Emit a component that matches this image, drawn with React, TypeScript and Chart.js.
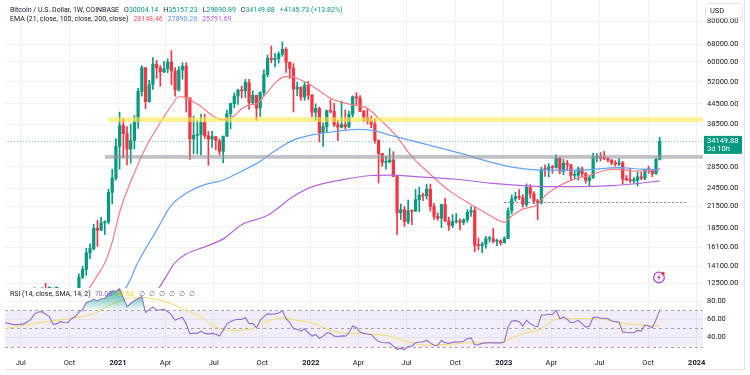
import React, { useEffect, useRef, useState } from 'react';
import { Chart, registerables } from 'chart.js';

Chart.register(...registerables);

const FONT = 'Roboto, "Liberation Sans", Arial, sans-serif';
Chart.defaults.font.family = FONT;

const TEXT = '#131722';
const UP = '#089981';
const DOWN = '#F23645';
const GRID = '#F0F2F6';
const EMA21_C = '#F47C83';
const EMA100_C = '#66A1F5';
const EMA200_C = '#B466D8';
const RSI_C = '#8E6FD0';
const RSI_SMA_C = '#F3DB6A';

// ---------- data ----------
// week index 0 = Monday 2020-06-29, one candle per week (Coinbase BTC/USD, 1W)
const firstWeek = '2020-06-29';

const opens = [
  9190, 9080, 9250, 9160, 9930, 11070, 11680, 11910, 11650, 11680,
  10260, 10330, 11080, 10770, 10670, 11370, 11500, 13030, 13760, 15480,
  15960, 18420, 18180, 19150, 19270, 23750, 26280, 32950, 38150, 36020,
  32280, 34310, 39250, 48600, 57500, 45200, 50970, 59000, 57400, 55800,
  57100, 59850, 56200, 49100, 56600, 58200, 46400, 34700, 35600, 35800,
  39000, 35500, 34700, 35300, 34250, 31800, 35400, 41500, 44600, 47000,
  49000, 48800, 51800, 44900, 47250, 43200, 48200, 54700, 61500, 60900,
  61300, 63300, 65500, 59700, 57200, 49400, 50100, 46700, 50800, 47300,
  41900, 43100, 36300, 37900, 42400, 42200, 38400, 37700, 38400, 37800,
  41300, 46800, 46400, 42200, 40400, 39400, 38500, 34300, 31300, 29400,
  29450, 29900, 26600, 20550, 21030, 19300, 20850, 20800, 22580, 23300,
  23180, 24300, 21500, 20040, 19800, 21800, 19400, 18800, 19300, 19420,
  19200, 19570, 20630, 20900, 16330, 16280, 16450, 17100, 17100, 16780,
  16840, 16620, 17130, 20880, 22700, 23050, 22930, 21800, 24630, 23520,
  22350, 22100, 28020, 27950, 28450, 28330, 30300, 27600, 29230, 28900,
  26800, 26850, 28080, 27100, 25850, 26350, 30470, 30600, 30300, 30250,
  29860, 29300, 29050, 29300, 26100, 26000, 25830, 25850, 26530, 26250,
  27970, 27920, 27150, 30004.14,
];
const highs = [
  9310, 9460, 9340, 10090, 12100, 11900, 12100, 12480, 11800, 12090,
  10790, 11180, 11080, 10960, 11490, 11730, 13350, 14090, 15970, 16500,
  18950, 19480, 19920, 19420, 24300, 28000, 34800, 41950, 40100, 37850,
  38570, 40950, 49710, 58350, 57500, 52600, 61800, 60600, 58400, 60200,
  61200, 64900, 57500, 58000, 59600, 59600, 46400, 40800, 39500, 41300,
  41300, 36600, 36600, 35300, 34700, 35400, 42600, 44700, 48100, 49400,
  50500, 52900, 52900, 48800, 47350, 48500, 56600, 62900, 67000, 63700,
  64300, 69000, 66300, 59900, 59200, 51900, 50200, 51900, 52100, 47600,
  44500, 43500, 38900, 42600, 45800, 44700, 39600, 45400, 42600, 42300,
  47100, 48200, 47200, 42500, 42900, 40800, 40000, 34500, 31300, 30600,
  32400, 31700, 26800, 21900, 21500, 22500, 21000, 24280, 24650, 23650,
  25200, 25200, 22000, 20550, 21850, 22800, 19950, 20300, 20450, 19700,
  19700, 21000, 21500, 21450, 17200, 16700, 17400, 17400, 18400, 17050,
  16970, 17350, 21300, 23350, 23800, 24250, 23400, 25250, 25100, 23900,
  22600, 28400, 28900, 29150, 28800, 31000, 30500, 30000, 29800, 29000,
  27700, 28450, 28450, 27400, 26800, 31400, 31300, 31500, 31800, 30450,
  29990, 29750, 30200, 29600, 26800, 28200, 26400, 27500, 27450, 28050,
  28600, 28000, 30300, 35157.23,
];
const lows = [
  8900, 9070, 9050, 9150, 9850, 10950, 11120, 11380, 11100, 9880,
  9890, 10200, 10140, 10370, 10530, 11190, 11420, 12900, 13200, 14840,
  15780, 16200, 18110, 17620, 19000, 21900, 25900, 28000, 30400, 28850,
  29240, 32300, 37400, 47000, 43000, 45000, 49300, 53300, 50400, 55500,
  55500, 51000, 47000, 48700, 53000, 42000, 30000, 31200, 31200, 31000,
  34800, 28800, 32700, 32100, 31000, 29300, 35300, 37300, 43300, 44300,
  46400, 46500, 42800, 44300, 39600, 40750, 47100, 53900, 59500, 57800,
  59400, 62300, 55600, 53300, 42000, 47100, 45600, 45600, 45900, 40600,
  39600, 34000, 32900, 36300, 41700, 37900, 34300, 37500, 37200, 37600,
  40500, 44300, 42100, 39200, 38600, 37600, 33700, 25400, 28600, 28000,
  29300, 26600, 17600, 19600, 18650, 19000, 18900, 20750, 20700, 22400,
  22650, 20800, 19600, 19500, 18500, 19300, 18150, 18500, 19100, 18200,
  18900, 19240, 20050, 15600, 15800, 15500, 16000, 16700, 16600, 16300,
  16350, 16600, 17100, 20400, 22300, 22550, 21400, 21500, 22800, 21950,
  19550, 21900, 26600, 26500, 27200, 28200, 27100, 26950, 27700, 25800,
  26150, 25900, 26500, 25350, 24800, 26250, 29500, 29700, 29950, 29500,
  28900, 28600, 28700, 25200, 25800, 25400, 25400, 24900, 26000, 26000,
  27200, 26550, 26950, 29890.89,
];
const closes = [
  9080, 9250, 9160, 9930, 11070, 11680, 11910, 11650, 11680, 10260,
  10330, 11080, 10770, 10670, 11370, 11500, 13030, 13760, 15480, 15960,
  18420, 18180, 19150, 19270, 23750, 26280, 32950, 38150, 36020, 32280,
  34310, 39250, 48600, 57500, 45200, 50970, 59000, 57400, 55800, 57100,
  59850, 56200, 49100, 56600, 58200, 46400, 34700, 35600, 35800, 39000,
  35500, 34700, 35300, 34250, 31800, 35400, 41500, 44600, 47000, 49000,
  48800, 51800, 44900, 47250, 43200, 48200, 54700, 61500, 60900, 61300,
  63300, 65500, 59700, 57200, 49400, 50100, 46700, 50800, 47300, 41900,
  43100, 36300, 37900, 42400, 42200, 38400, 37700, 38400, 37800, 41300,
  46800, 46400, 42200, 40400, 39400, 38500, 34300, 31300, 29400, 29450,
  29900, 26600, 20550, 21030, 19300, 20850, 20800, 22580, 23300, 23180,
  24300, 21500, 20040, 19800, 21800, 19400, 18800, 19300, 19420, 19200,
  19570, 20630, 20900, 16330, 16280, 16450, 17100, 17100, 16780, 16840,
  16620, 17130, 20880, 22700, 23050, 22930, 21800, 24630, 23520, 22350,
  22100, 27950, 27950, 28450, 28330, 30300, 27600, 29230, 28900, 26800,
  26850, 28080, 27100, 25850, 26350, 30470, 30600, 30300, 30250, 29860,
  29300, 29050, 29300, 26100, 26000, 25830, 25850, 26530, 26250, 27970,
  27920, 27150, 30004.15, 34149.88,
];

// EMA values (week index -> price)
const ema21Weeks = [12, 16, 19, 21, 23, 25, 27, 29, 31, 33, 35, 37, 39, 41, 43, 45, 47, 49, 52, 55, 58, 60, 62, 64, 67, 70, 72, 74, 76, 78, 81, 84, 89, 94, 97, 100, 102, 106, 111, 116, 122, 127, 131, 133, 136, 140, 142, 146, 150, 154, 158, 162, 166, 170, 173];
const ema21Values = [10900, 11450, 12150, 13200, 14400, 16700, 20600, 24000, 27300, 30800, 34200, 37300, 40600, 43900, 46800, 46500, 45100, 43700, 41000, 39700, 40900, 43000, 44200, 44500, 48500, 52800, 54000, 53800, 52700, 51400, 48800, 46300, 44400, 43100, 40200, 37300, 35200, 30600, 27000, 24100, 21800, 20200, 19250, 20100, 21100, 21800, 23200, 24950, 26150, 26800, 27750, 28000, 27650, 27650, 28148.46];

const ema100Weeks = [22, 29, 32, 37, 41, 45, 50, 55, 60, 65, 69, 74, 79, 85, 91, 96, 100, 105, 113, 120, 127, 134, 141, 151, 162, 168, 173];
const ema100Values = [10200, 12250, 14500, 18150, 21700, 23600, 25100, 25950, 27600, 29600, 31900, 34400, 35700, 36550, 37130, 36750, 35660, 34500, 32700, 31150, 29500, 28300, 27830, 27830, 28300, 28020, 27890.28];

const ema200Weeks = [33, 38, 42, 45, 50, 55, 60, 67, 74, 79, 87, 95, 100, 109, 118, 127, 136, 142, 151, 160, 167, 173];
const ema200Values = [10300, 12250, 14450, 15350, 16150, 17090, 18900, 20200, 23100, 24700, 25950, 26780, 26860, 26490, 26080, 25380, 24920, 24740, 24740, 24920, 25300, 25791.69];

// RSI (14) weekly, starting at week -4 (2020-06-01)
const rsiFirstWeek = -4;
const rsiValues = [
  56.3, 55.5, 54.4, 54.2,
  54.4, 55, 57, 60, 66, 68, 68.5, 65.6, 63, 54.4,
  55, 57.4, 56.5, 56.3, 60.7, 63, 68, 71, 78.5, 80,
  82, 80.5, 82.6, 83, 87.8, 91.5, 91, 93.7, 84, 73.7,
  77.4, 80.5, 83, 84.8, 67.4, 71, 73.7, 70, 70.5, 71,
  68.5, 64.8, 58.9, 61, 62, 55, 44, 45, 44.5, 47,
  44.5, 44, 44.5, 43.5, 41.5, 47.8, 55, 57.5, 59.3, 60,
  59.8, 61.9, 55.2, 55.6, 50.7, 58.9, 63, 66, 65.6, 66,
  67, 69.3, 60.7, 56.3, 49.6, 49, 47, 49.6, 45.2, 41.5,
  43.3, 38.9, 41.5, 45.2, 44.5, 41.5, 41, 41.8, 41.5, 45.2,
  52.6, 51, 46, 44.5, 43.8, 43.3, 39, 35.5, 34.5, 34.2,
  34.1, 30.4, 27, 28, 26.7, 30.4, 30.4, 34.1, 35, 35,
  37, 34.1, 31.1, 31.5, 36.7, 34.1, 33.5, 34.8, 35.2, 35,
  35.9, 38.9, 39.6, 31.5, 32.2, 33.5, 34.1, 34.4, 34, 34.1,
  34, 35.2, 51.5, 58.1, 58.5, 57.5, 52.6, 58.9, 55.2, 52.6,
  51.9, 64.8, 64.8, 65.6, 65, 70, 60.7, 62.6, 60, 56.3,
  57, 58.9, 55.2, 51.5, 52.5, 61.9, 62.6, 61.1, 61.1, 60.7,
  58.1, 57.5, 57, 45.9, 45.5, 45.2, 45.2, 47.8, 47, 53.7,
  52.6, 50.7, 59.7, 70.08,
];

// SMA(14) of RSI
const rsiSmaWeeks = [-4, 4, 13, 20, 24, 29, 32, 36, 41, 45, 49, 53, 58, 63, 67, 71, 75, 79, 83, 87, 92, 96, 100, 103, 107, 110, 114, 118, 121, 125, 130, 133, 137, 141, 144, 147, 151, 157, 160, 164, 168, 173];
const rsiSmaValues = [49.7, 55.5, 60.5, 66.2, 75, 82.7, 84.5, 82.7, 77.2, 69.8, 62.5, 51.4, 47.8, 50, 58, 61.5, 58.8, 56, 49.7, 45, 44.2, 43.3, 41.5, 37.8, 33, 31.5, 32.2, 33, 34.1, 34.1, 34.1, 39.6, 45.2, 49.6, 58.9, 60.7, 60.7, 60.7, 58.1, 55.2, 53.7, 52.63];

// axes
const priceTicks = [12500, 14100, 16100, 18500, 21500, 24500, 28500, 38500, 44500, 52000, 60000, 68000, 80000];
const rsiTicks = [40, 60, 80];
const rsiLevels = [70, 50, 30];
const timeTickDates = ['2020-07-01', '2020-10-01', '2021-01-01', '2021-04-01', '2021-07-01', '2021-10-01', '2022-01-01', '2022-04-01', '2022-07-01', '2022-10-01', '2023-01-01', '2023-04-01', '2023-07-01', '2023-10-01', '2024-01-01'];
const timeTickLabels = ['Jul', 'Oct', '2021', 'Apr', 'Jul', 'Oct', '2022', 'Apr', 'Jul', 'Oct', '2023', 'Apr', 'Jul', 'Oct', '2024'];

// visible ranges
const viewStartWeek = -3.98;
const viewEndWeek = 184.7;
const priceMin = 12065;
const priceMax = 92900;
const rsiMin = 24;
const rsiMax = 94.5;

// drawings
const yellowZone = [39100, 40500];
const yellowZoneStartWeek = 24;
const greyZone = [30150, 30950];
const greyZoneStartWeek = 23;
const dottedLevel = 22200;
const dottedLevelWeeks = [131, 180.5];
const iconWeek = 172.8;
const iconPrice = 13000;

// ---------- helpers ----------
const weekOf = (d: string) => (Date.parse(d) - Date.parse(firstWeek)) / 604800000;
const timeTickWeeks = timeTickDates.map(weekOf);
const isYear = (i: number) => /^\d{4}$/.test(timeTickLabels[i] || '');
const fmt = (v: number) => Number(v).toFixed(2);

function drawSegments(ctx: CanvasRenderingContext2D, x: number, y: number, segs: any[]) {
  for (const s of segs) {
    ctx.fillStyle = s[1];
    ctx.fillText(s[0], x, y);
    x += ctx.measureText(s[0]).width + (s[2] || 0);
  }
}

function xScale(showLabels: boolean): any {
  return {
    type: 'linear',
    min: viewStartWeek,
    max: viewEndWeek,
    bounds: 'data',
    offset: false,
    grid: { color: GRID, drawTicks: false, offset: false },
    border: { display: false },
    ticks: showLabels
      ? {
          display: true,
          padding: 7,
          color: TEXT,
          maxRotation: 0,
          autoSkip: false,
          font: (c: any) => ({ family: FONT, size: 7.5, weight: isYear(c.index) ? 'bold' : 'normal' }),
          callback: (_v: any, i: number) => timeTickLabels[i] || '',
        }
      : { display: false },
    afterBuildTicks: (s: any) => {
      s.ticks = timeTickWeeks.map((v) => ({ value: v }));
    },
    afterFit: (s: any) => {
      s.height = showLabels ? 23 : 0;
      s.paddingLeft = 0;
      s.paddingRight = 0;
    },
  };
}

function yScale(type: string, min: number, max: number, ticks: number[], showLabels: boolean): any {
  return {
    type,
    position: 'right',
    min,
    max,
    bounds: 'data',
    beginAtZero: false,
    grid: { color: GRID, drawTicks: false },
    border: { display: false },
    ticks: { display: showLabels, padding: 4, color: TEXT, font: { size: 7.5 }, autoSkip: false, callback: (v: any) => fmt(v) },
    afterBuildTicks: (s: any) => {
      s.ticks = ticks.map((v) => ({ value: v }));
    },
    afterFit: (s: any) => {
      s.width = 47;
      s.paddingTop = 0;
      s.paddingBottom = 0;
    },
  };
}

const mainOverlay = {
  id: 'mainOverlay',
  afterDatasetsDraw(chart: any) {
    const { ctx, chartArea: a, scales } = chart;
    const xs = scales.x;
    const ys = scales.y;
    ctx.save();
    ctx.beginPath();
    ctx.rect(a.left, a.top, a.right - a.left, a.bottom - a.top);
    ctx.clip();
    const zone = (z: number[], startWeek: number, color: string) => {
      const x0 = xs.getPixelForValue(startWeek);
      const yt = ys.getPixelForValue(z[1]);
      const yb = ys.getPixelForValue(z[0]);
      ctx.fillStyle = color;
      ctx.fillRect(x0, yt, a.right - x0, yb - yt);
    };
    zone(yellowZone, yellowZoneStartWeek, 'rgba(252,233,80,0.6)');
    zone(greyZone, greyZoneStartWeek, 'rgba(150,150,160,0.6)');

    // last price line
    const py = Math.round(ys.getPixelForValue(closes[closes.length - 1])) + 0.5;
    ctx.setLineDash([1, 2]);
    ctx.lineWidth = 1;
    ctx.strokeStyle = 'rgba(8,153,129,0.5)';
    ctx.beginPath();
    ctx.moveTo(a.left, py);
    ctx.lineTo(a.right, py);
    ctx.stroke();

    // dotted level
    const dy = Math.round(ys.getPixelForValue(dottedLevel)) + 0.5;
    ctx.setLineDash([2, 2]);
    ctx.strokeStyle = '#787B86';
    ctx.beginPath();
    ctx.moveTo(xs.getPixelForValue(dottedLevelWeeks[0]), dy);
    ctx.lineTo(xs.getPixelForValue(dottedLevelWeeks[1]), dy);
    ctx.stroke();
    ctx.setLineDash([]);

    // lightning icon
    const cx = xs.getPixelForValue(iconWeek);
    const cy = ys.getPixelForValue(iconPrice);
    ctx.strokeStyle = '#B14FD8';
    ctx.lineWidth = 1.3;
    ctx.beginPath();
    ctx.arc(cx, cy, 5.3, 0, Math.PI * 2);
    ctx.stroke();
    ctx.fillStyle = '#B14FD8';
    ctx.beginPath();
    ctx.moveTo(cx + 1.2, cy - 3.6);
    ctx.lineTo(cx - 2.2, cy + 0.6);
    ctx.lineTo(cx - 0.1, cy + 0.6);
    ctx.lineTo(cx - 1.2, cy + 3.6);
    ctx.lineTo(cx + 2.2, cy - 0.6);
    ctx.lineTo(cx + 0.1, cy - 0.6);
    ctx.closePath();
    ctx.fill();
    ctx.fillStyle = '#F23645';
    ctx.beginPath();
    ctx.arc(cx + 4, cy - 4, 1.7, 0, Math.PI * 2);
    ctx.fill();
    ctx.restore();
  },
  afterDraw(chart: any) {
    const { ctx, chartArea: a, scales } = chart;
    const ys = scales.y;
    const n = closes.length - 1;
    ctx.save();
    ctx.textBaseline = 'middle';
    ctx.textAlign = 'left';
    ctx.font = `7px ${FONT}`;
    const chg = closes[n] - closes[n - 1];
    const pct = (chg / closes[n - 1]) * 100;
    drawSegments(ctx, 10, 10, [
      ['Bitcoin / U.S. Dollar, 1W, COINBASE', TEXT, 5],
      ['O', TEXT, 0], [fmt(opens[n]), UP, 5],
      ['H', TEXT, 0], [fmt(highs[n]), UP, 5],
      ['L', TEXT, 0], [fmt(lows[n]), UP, 5],
      ['C', TEXT, 0], [fmt(closes[n]), UP, 5],
      [`+${fmt(chg)} (+${fmt(pct)}%)`, UP, 0],
    ]);
    drawSegments(ctx, 10, 19.5, [
      ['EMA (21, close, 100, close, 200, close)', TEXT, 5],
      [fmt(ema21Values[ema21Values.length - 1]), '#F25563', 5],
      [fmt(ema100Values[ema100Values.length - 1]), '#5B9CF6', 5],
      [fmt(ema200Values[ema200Values.length - 1]), '#B25AD6', 0],
    ]);

    // price tag
    const py = ys.getPixelForValue(closes[n]);
    ctx.fillStyle = UP;
    ctx.fillRect(a.right + 1, py - 5.3, 38, 18);
    ctx.fillStyle = '#FFFFFF';
    ctx.font = `7.5px ${FONT}`;
    ctx.fillText(fmt(closes[n]), a.right + 4, py - 0.3);
    ctx.fillText('3d 10h', a.right + 4, py + 7.8);

    // USD box
    ctx.fillStyle = '#FFFFFF';
    ctx.strokeStyle = '#E0E3EB';
    ctx.lineWidth = 1;
    ctx.beginPath();
    (ctx as any).roundRect(a.right + 2.5, 3.5, 37, 14.5, 3);
    ctx.fill();
    ctx.stroke();
    ctx.fillStyle = TEXT;
    ctx.fillText('USD', a.right + 7, 10.7);
    ctx.restore();
  },
};

const rsiOverlay = {
  id: 'rsiOverlay',
  beforeDatasetsDraw(chart: any) {
    const { ctx, chartArea: a, scales } = chart;
    const ys = scales.y;
    ctx.save();
    const y70 = ys.getPixelForValue(rsiLevels[0]);
    const y30 = ys.getPixelForValue(rsiLevels[2]);
    ctx.fillStyle = 'rgba(126,87,194,0.1)';
    ctx.fillRect(a.left, y70, a.right - a.left, y30 - y70);
    ctx.setLineDash([3, 3]);
    ctx.strokeStyle = '#A3A6AF';
    ctx.lineWidth = 1;
    for (const lv of rsiLevels) {
      const y = Math.round(ys.getPixelForValue(lv)) + 0.5;
      ctx.beginPath();
      ctx.moveTo(a.left, y);
      ctx.lineTo(a.right, y);
      ctx.stroke();
    }
    ctx.restore();
  },
  afterDraw(chart: any) {
    const { ctx } = chart;
    ctx.save();
    ctx.textBaseline = 'middle';
    ctx.textAlign = 'left';
    ctx.font = `7px ${FONT}`;
    drawSegments(ctx, 10, 6, [
      ['RSI (14, close, SMA, 14, 2)', TEXT, 4],
      [fmt(rsiValues[rsiValues.length - 1]), '#8E6FD0', 4],
      [fmt(rsiSmaValues[rsiSmaValues.length - 1]), '#EBCB2E', 5],
      ['\u2205', '#787B86', 4], ['\u2205', '#787B86', 4], ['\u2205', '#787B86', 4],
      ['\u2205', '#787B86', 4], ['\u2205', '#787B86', 4], ['\u2205', '#787B86', 0],
    ]);
    ctx.restore();
  },
};

const baseOptions = () => ({
  responsive: false,
  animation: false,
  devicePixelRatio: 1,
  events: [],
  layout: { autoPadding: false, padding: { left: 5, right: 0, top: 0, bottom: 0 } },
  plugins: { legend: { display: false }, tooltip: { enabled: false } },
});

const RSI_TOP = 288;

export default function App() {
  const mainRef = useRef<HTMLCanvasElement>(null);
  const rsiRef = useRef<HTMLCanvasElement>(null);
  const [rsiLabels, setRsiLabels] = useState<{ x: number; y: number; text: string }[]>([]);

  useEffect(() => {
    const candleColors = opens.map((o, i) => (closes[i] >= o ? UP : DOWN));
    const line = (weeks: number[], values: number[], color: string) => ({
      type: 'line',
      data: weeks.map((w, k) => ({ x: w, y: values[k] })),
      borderColor: color,
      borderWidth: 1.2,
      pointRadius: 0,
      pointHoverRadius: 0,
      cubicInterpolationMode: 'monotone',
      fill: false,
      order: 0,
    });

    const main = new Chart(mainRef.current as HTMLCanvasElement, {
      type: 'bar',
      data: {
        datasets: [
          line(ema200Weeks, ema200Values, EMA200_C),
          line(ema100Weeks, ema100Values, EMA100_C),
          line(ema21Weeks, ema21Values, EMA21_C),
          {
            type: 'bar',
            data: opens.map((_o, i) => ({ x: i, y: [lows[i], highs[i]] })),
            backgroundColor: candleColors,
            barThickness: 1,
            grouped: false,
            order: 2,
          },
          {
            type: 'bar',
            data: opens.map((o, i) => ({ x: i, y: [o, closes[i]] })),
            backgroundColor: candleColors,
            barThickness: 2.6,
            minBarLength: 1,
            grouped: false,
            order: 1,
          },
        ] as any,
      },
      options: {
        ...baseOptions(),
        scales: {
          x: xScale(false),
          y: yScale('logarithmic', priceMin, priceMax, priceTicks, true),
        },
      } as any,
      plugins: [mainOverlay],
    });

    const rsi = new Chart(rsiRef.current as HTMLCanvasElement, {
      type: 'line',
      data: {
        datasets: [
          {
            data: rsiSmaValues.map((v, k) => ({ x: rsiSmaWeeks[k], y: v })),
            borderColor: RSI_SMA_C,
            borderWidth: 1,
            pointRadius: 0,
            pointHoverRadius: 0,
            cubicInterpolationMode: 'monotone',
            fill: false,
            order: 2,
          },
          {
            data: rsiValues.map((v, k) => ({ x: rsiFirstWeek + k, y: v })),
            borderColor: 'rgba(0,0,0,0)',
            borderWidth: 0,
            pointRadius: 0,
            pointHoverRadius: 0,
            fill: { target: { value: rsiLevels[2] }, above: 'rgba(0,0,0,0)', below: 'rgba(242,54,69,0.25)' },
            order: 3,
          },
          {
            data: rsiValues.map((v, k) => ({ x: rsiFirstWeek + k, y: v })),
            borderColor: RSI_C,
            borderWidth: 1.1,
            pointRadius: 0,
            pointHoverRadius: 0,
            tension: 0,
            fill: { target: { value: rsiLevels[0] }, below: 'rgba(0,0,0,0)' },
            backgroundColor: (c: any) => {
              const ch = c.chart;
              if (!ch.chartArea || !ch.scales || !ch.scales.y) return 'rgba(8,153,129,0.3)';
              const ys = ch.scales.y;
              const g = ch.ctx.createLinearGradient(0, ys.getPixelForValue(94), 0, ys.getPixelForValue(rsiLevels[0]));
              g.addColorStop(0, 'rgba(8,153,129,0.8)');
              g.addColorStop(1, 'rgba(8,153,129,0.05)');
              return g;
            },
            order: 1,
          },
        ] as any,
      },
      options: {
        ...baseOptions(),
        scales: {
          x: xScale(true),
          y: yScale('linear', rsiMin, rsiMax, rsiTicks, false),
        },
      } as any,
      plugins: [rsiOverlay],
    });

    // RSI price-scale labels as real text, placed through the chart's own scale
    setRsiLabels(
      rsiTicks.map((t) => ({
        x: rsi.chartArea.right + 4,
        y: RSI_TOP + rsi.scales.y.getPixelForValue(t),
        text: fmt(t),
      })),
    );

    return () => {
      main.destroy();
      rsi.destroy();
    };
  }, []);

  return (
    <div style={{ position: 'absolute', left: 0, top: 0, width: 750, height: 375, background: '#FFFFFF', overflow: 'hidden' }}>
      <canvas ref={mainRef} width={750} height={288} style={{ position: 'absolute', left: 0, top: 0, width: 750, height: 288 }} />
      <canvas ref={rsiRef} width={750} height={87} style={{ position: 'absolute', left: 0, top: RSI_TOP, width: 750, height: 87 }} />
      {rsiLabels.map((l) => (
        <div
          key={l.text}
          style={{
            position: 'absolute',
            left: l.x,
            top: l.y - 5,
            height: 10,
            lineHeight: '10px',
            fontFamily: FONT,
            fontSize: 7.5,
            color: TEXT,
            whiteSpace: 'nowrap',
          }}
        >
          {l.text}
        </div>
      ))}
      <div style={{ position: 'absolute', left: 744, top: 0, width: 1, height: 369, background: '#E0E3EB' }} />
      <div style={{ position: 'absolute', left: 5, top: 369, width: 740, height: 1, background: '#E0E3EB' }} />
    </div>
  );
}
